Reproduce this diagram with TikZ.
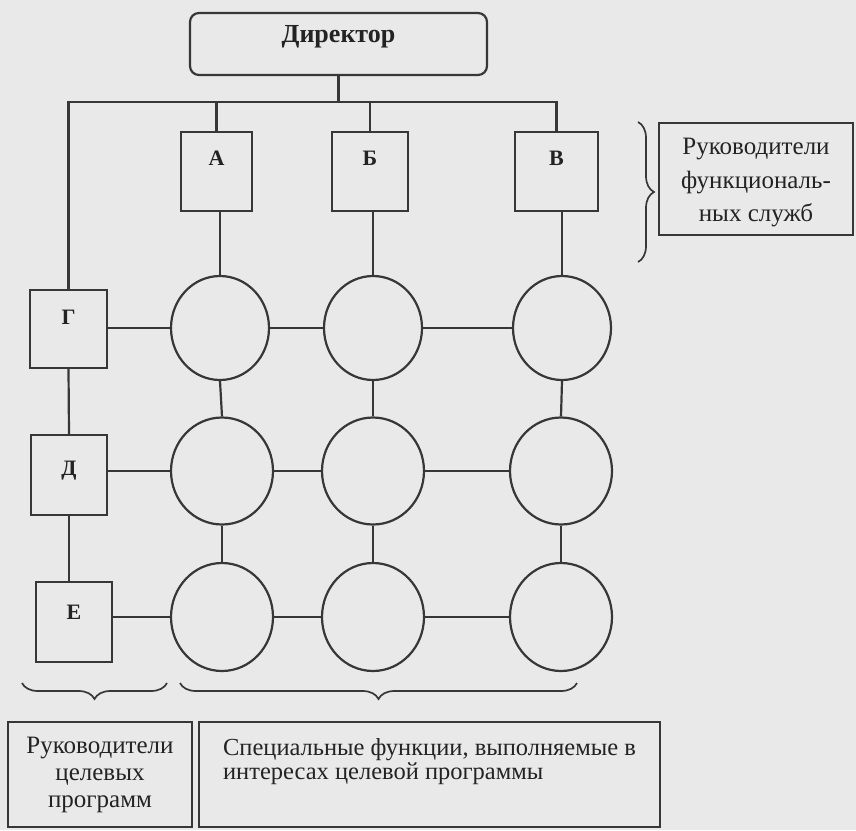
\documentclass[tikz,border=0pt]{standalone}
\usepackage{fontspec}
\setmainfont{Liberation Serif}
\usetikzlibrary{shapes.geometric,decorations.pathreplacing}
\definecolor{bg}{RGB}{233,233,233}
\definecolor{ink}{RGB}{55,55,55}
\definecolor{txt}{RGB}{35,35,35}
\begin{document}
\begin{tikzpicture}[x=1pt,y=-1pt,
  every node/.style={text=txt},
  box/.style={draw=ink, line width=2.2pt, inner sep=0pt},
  lbox/.style={box, font=\fontsize{22}{26}\selectfont\bfseries},
  circ/.style={draw=ink, line width=2.2pt, ellipse, inner sep=0pt},
  row1/.style={circ, minimum width=98pt, minimum height=104pt},
  row2/.style={circ, minimum width=102pt, minimum height=107pt},
  row3/.style={circ, minimum width=102pt, minimum height=108pt},
  conn/.style={draw=ink, line width=2.2pt},
  brc/.style={draw=ink, line width=1.7pt, decorate, decoration={brace, amplitude=16pt}},
  tbox/.style={box, font=\fontsize{25}{33.5}\selectfont, align=center}
]
\fill[bg] (0,0) rectangle (856,830);
\useasboundingbox (0,0) rectangle (856,830);

% top
\node[box, rounded corners=9pt, minimum width=297pt, font=\fontsize{26}{30}\selectfont\bfseries,
      text height=29.5pt, text depth=32.5pt] (dir) at (338.5,44) {Директор};
\coordinate (bus) at (0,102);

\node[lbox, minimum width=71pt, text height=33pt, text depth=46pt] (A) at (216.5,171.5) {А};
\node[lbox, minimum width=76pt, text height=33pt, text depth=46pt] (B) at (370,171.5) {Б};
\node[lbox, minimum width=83pt, text height=33pt, text depth=46pt] (V) at (556.5,171.5) {В};

\node[box, minimum width=194pt, minimum height=112pt,
      label={[tbox, draw=none, yshift=-4pt]center:{Руководители\\функциональ-\\ных служб}}] (func) at (756,179) {};

% left program managers
\node[lbox, minimum width=77pt, text height=34pt, text depth=44pt] (G) at (68.5,329) {Г};
\node[lbox, minimum width=76pt, text height=40pt, text depth=40pt] (D) at (69,475) {Д};
\node[lbox, minimum width=76pt, text height=37pt, text depth=43pt] (E) at (74,622) {Е};

% circles
\node[row1] (c11) at (220,328) {};
\node[row1] (c12) at (373,328) {};
\node[row1] (c13) at (562,328) {};
\node[row2] (c21) at (222,471) {};
\node[row2] (c22) at (373,471) {};
\node[row2] (c23) at (561,471) {};
\node[row3] (c31) at (222,617) {};
\node[row3] (c32) at (373,617) {};
\node[row3] (c33) at (561,617) {};

% bottom boxes
\node[tbox, minimum width=184pt, minimum height=105pt, font=\fontsize{25}{27}\selectfont] (progs) at (100,774.5)
  {Руководители\\целевых\\программ};
\node[tbox, minimum width=461pt, minimum height=105pt, align=left, font=\fontsize{24.5}{24}\selectfont] (spec) at (429.5,774.5)
  {Специальные функции, выполняемые в\\интересах целевой программы\\[8pt]\mbox{}};

% connectors
\draw[conn] (dir.south) -- (dir.south |- bus);
\draw[conn] (G.north) -- (G.north |- bus) -| (V.north);
\draw[conn] (A.north) -- (A.north |- bus);
\draw[conn] (B.north) -- (B.north |- bus);
\draw[conn] (c11.north |- A.south) -- (c11.north);
\draw[conn] (c12.north |- B.south) -- (c12.north);
\draw[conn] (c13.north |- V.south) -- (c13.north);
\draw[conn] (c11.south) -- (c21.north);
\draw[conn] (c21.south) -- (c31.north);
\draw[conn] (c12.south) -- (c22.north);
\draw[conn] (c22.south) -- (c32.north);
\draw[conn] (c13.south) -- (c23.north);
\draw[conn] (c23.south) -- (c33.north);
\draw[conn] (G.south) -- (D.north);
\draw[conn] (D.south) -- (D.south |- E.north);
\draw[conn] (G.east |- c11.west) -- (c11.west);
\draw[conn] (c11.east) -- (c12.west);
\draw[conn] (c12.east) -- (c13.west);
\draw[conn] (D.east |- c21.west) -- (c21.west);
\draw[conn] (c21.east) -- (c22.west);
\draw[conn] (c22.east) -- (c23.west);
\draw[conn] (E.east |- c31.west) -- (c31.west);
\draw[conn] (c31.east) -- (c32.west);
\draw[conn] (c32.east) -- (c33.west);

% braces
\coordinate (rb1) at (638,122); \coordinate (rb2) at (638,262);
\coordinate (lb1) at (167,683); \coordinate (lb2) at (22,683);
\coordinate (mb1) at (577,683); \coordinate (mb2) at (180,683);
\draw[brc] (rb1) -- (rb2);
\draw[brc] (lb1) -- (lb2);
\draw[brc] (mb1) -- (mb2);
\end{tikzpicture}
\end{document}
